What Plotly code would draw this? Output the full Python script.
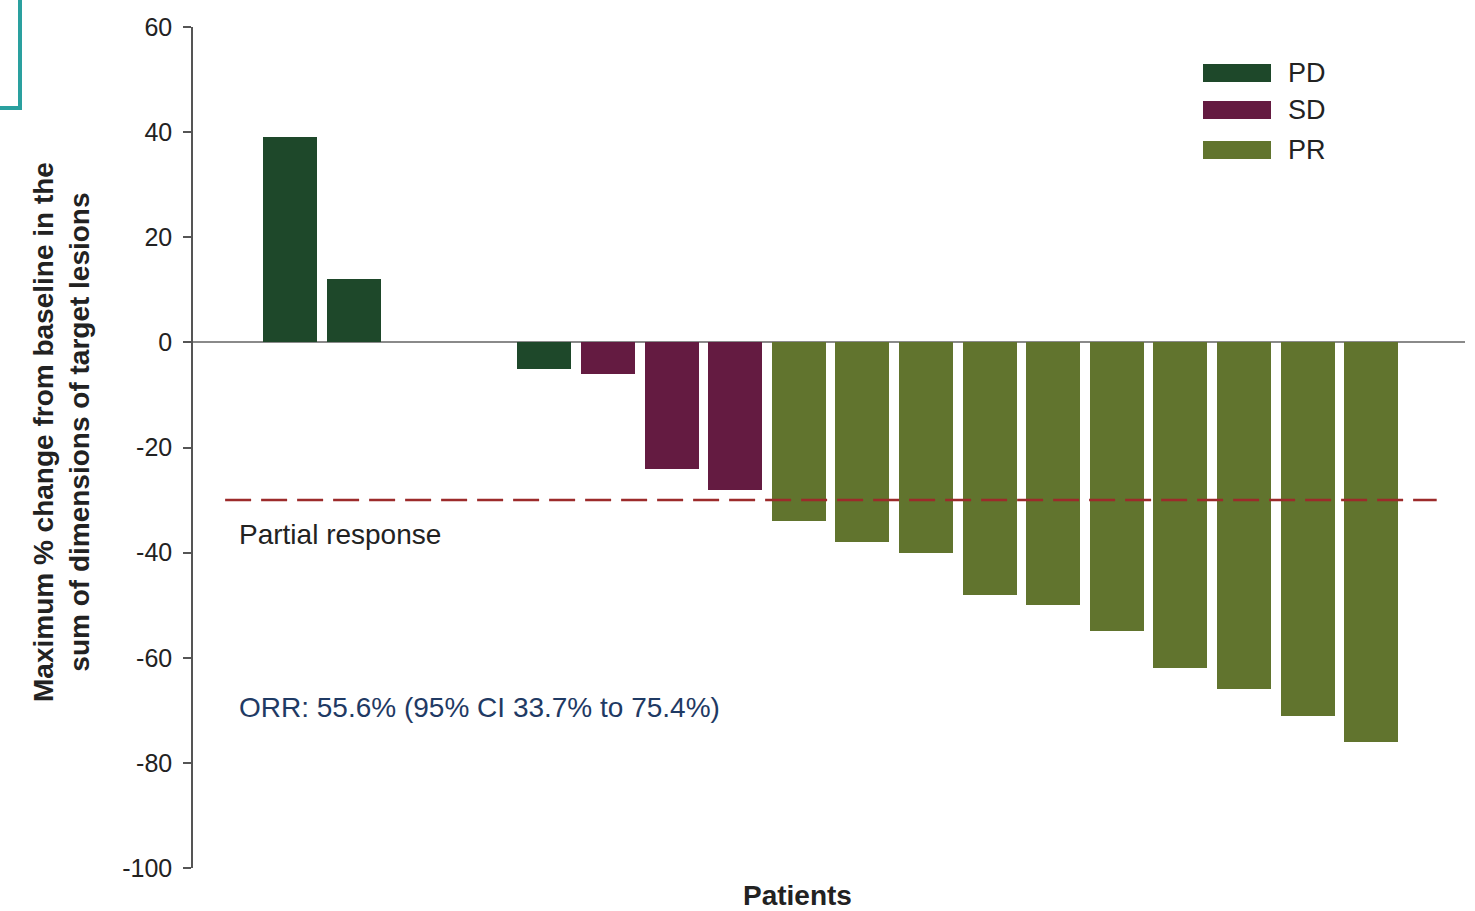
import plotly.graph_objects as go

# ---- data ----
patients = list(range(1, 19))
change = [39, 12, None, None, -5, -6, -24, -28, -34, -38, -40, -48, -50, -55, -62, -66, -71, -76]
status = ["PD", "PD", None, None, "PD", "SD", "SD", "SD",
          "PR", "PR", "PR", "PR", "PR", "PR", "PR", "PR", "PR", "PR"]
categories = ["PD", "SD", "PR"]
cat_colors = {"PD": "#1e482a", "SD": "#641b41", "PR": "#61742e"}
y_ticks = [60, 40, 20, 0, -20, -40, -60, -80, -100]
y_tick_labels = ["60", "40", "20", "0", "-20", "-40", "-60", "-80", "-100"]
pr_threshold = -30

FONT = "Liberation Sans, Arial, sans-serif"

fig = go.Figure()
bar_colors = [cat_colors[s] if s else "rgba(0,0,0,0)" for s in status]
fig.add_trace(go.Bar(
    x=patients, y=change, marker=dict(color=bar_colors, line=dict(width=0)),
    width=0.85, showlegend=False,
))

# partial response threshold line (above bars)
fig.add_shape(type="line", xref="x", yref="y", x0=-0.02, x1=19.03,
              y0=pr_threshold, y1=pr_threshold,
              line=dict(color="#9c2b2b", width=2.5, dash="26px,10px"), layer="above")

# manual legend
leg_y = [(64, 82), (101, 119), (141, 159)]
def px_x(p):
    return (p - 193) / 1272
def px_y(p):
    return (868 - p) / 841
for cat, (y0, y1) in zip(categories, leg_y):
    fig.add_shape(type="rect", xref="paper", yref="paper",
                  x0=px_x(1203), x1=px_x(1271), y0=px_y(y1), y1=px_y(y0),
                  fillcolor=cat_colors[cat], line=dict(width=0))
    fig.add_annotation(xref="paper", yref="paper", x=px_x(1286), y=px_y((y0 + y1) / 2),
                       text=cat, showarrow=False, xanchor="left", yanchor="middle",
                       font=dict(family=FONT, size=27, color="#222"))

# teal bracket decoration (top-left)
fig.add_shape(type="path", xref="paper", yref="paper",
              path=f"M {px_x(20)} {px_y(-5)} L {px_x(20)} {px_y(108)} L {px_x(-5)} {px_y(108)}",
              line=dict(color="#2aa09f", width=4))

fig.add_annotation(xref="x", yref="y", x=0.16, y=-36.5, text="Partial response",
                   showarrow=False, xanchor="left", yanchor="middle",
                   font=dict(family=FONT, size=28, color="#222"))
fig.add_annotation(xref="x", yref="y", x=0.17, y=-69.4,
                   text="ORR: 55.6% (95% CI 33.7% to 75.4%)",
                   showarrow=False, xanchor="left", yanchor="middle",
                   font=dict(family=FONT, size=28, color="#1f3a64"))

# axis titles
fig.add_annotation(xref="paper", yref="paper", x=px_x(61), y=px_y(432),
                   text="<b>Maximum % change from baseline in the<br>sum of dimensions of target lesions</b>",
                   textangle=-90, showarrow=False, xanchor="center", yanchor="middle",
                   font=dict(family=FONT, size=28, color="#222"))
fig.add_annotation(xref="paper", yref="paper", x=px_x(797), y=px_y(895),
                   text="<b>Patients</b>", showarrow=False, xanchor="center", yanchor="middle",
                   font=dict(family=FONT, size=28, color="#222"))

fig.update_layout(
    width=1475, height=911,
    margin=dict(l=193, r=10, t=27, b=43),
    paper_bgcolor="white", plot_bgcolor="white",
    showlegend=False,
    bargap=0,
    xaxis=dict(range=[-0.525, 19.475], showticklabels=False, showgrid=False,
               zeroline=False, showline=False, ticks=""),
    yaxis=dict(range=[-100, 60], tickvals=y_ticks, ticktext=y_tick_labels, showgrid=False,
               zeroline=True, zerolinecolor="#8a8a8a", zerolinewidth=1.5,
               showline=True, linecolor="#555", linewidth=1.5,
               ticks="outside", ticklen=8, tickcolor="#555", tickwidth=1.5,
               ticklabelstandoff=6,
               tickfont=dict(family=FONT, size=25, color="#222")),
)

fig.write_html("out.html")
